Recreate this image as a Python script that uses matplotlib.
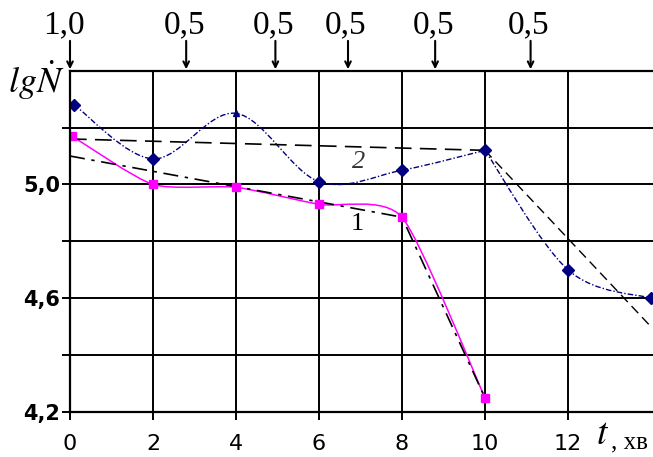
import numpy as np
import matplotlib
matplotlib.use("Agg")
from matplotlib import pyplot as plt
from matplotlib.path import Path
from matplotlib.patches import PathPatch

plt.rcParams['mathtext.fontset'] = 'stix'

# крива 2 (сині ромби)
t2 = [0.1, 2, 4, 6, 8, 10, 12, 14]
lgN2 = [5.28, 5.09, 5.25, 5.01, 5.05, 5.12, 4.70, 4.60]
# крива 1 (пурпурні квадрати)
t1 = [0.05, 2, 4, 6, 8, 10]
lgN1 = [5.17, 5.00, 4.99, 4.93, 4.885, 4.25]
# апроксимація (штрихові прямі)
fit2_t = [0, 10, 14]
fit2_y = [5.16, 5.12, 4.50]
fit1_t = [0, 8, 10]
fit1_y = [5.10, 4.885, 4.25]
# позначки зверху
top_t = [0, 2.8, 4.95, 6.7, 8.8, 11.1]
top_lbl = ['1,0', '0,5', '0,5', '0,5', '0,5', '0,5']

yticks = [4.2, 4.4, 4.6, 4.8, 5.0, 5.2]
ytick_lbl = ['4,2', '', '4,6', '', '5,0', '']
xticks = [0, 2, 4, 6, 8, 10, 12]


def smooth_path(x, y, k=1 / 6):
    # згладжена лінія через точки (Catmull-Rom -> кубічні Безьє)
    p = np.column_stack([x, y]).astype(float)
    ext = np.vstack([p[0], p, p[-1]])
    verts = [p[0]]
    codes = [Path.MOVETO]
    for i in range(1, len(ext) - 2):
        c1 = ext[i] + (ext[i + 1] - ext[i - 1]) * k
        c2 = ext[i + 1] - (ext[i + 2] - ext[i]) * k
        verts += [c1, c2, ext[i + 1]]
        codes += [Path.CURVE4] * 3
    return Path(verts, codes)


fig = plt.figure(figsize=(6.53, 4.57), dpi=100)
ax = fig.add_axes([70 / 653, 45 / 457, 583 / 653, 341.3 / 457])
ax.set_xlim(0, 14.05)
ax.set_ylim(4.2, 5.4)

ax.set_xticks(xticks)
ax.set_xticklabels([str(v) for v in xticks], fontsize=16, family='DejaVu Sans')
ax.set_yticks(yticks)
ax.set_yticklabels(ytick_lbl, fontsize=15, family='DejaVu Sans', fontweight='bold')
ax.tick_params(direction='out', length=6, width=1.4, color='black', pad=1)
ax.tick_params(axis='x', pad=10)
ax.grid(True, color='black', lw=1.4)
ax.set_axisbelow(True)
for s in ['left', 'bottom', 'top']:
    ax.spines[s].set_linewidth(1.6)
ax.spines['right'].set_visible(False)

# штрихові прямі
ax.plot(fit2_t[:2], fit2_y[:2], color='black', lw=1.2, dashes=(10, 5))
ax.plot(fit2_t[1:], fit2_y[1:], color='black', lw=1.0, dashes=(7, 4))
ax.plot(fit1_t, fit1_y, color='black', lw=1.2, dashes=(9, 4, 2, 4))

# згладжені криві
blue = '#000080'
pa = smooth_path(t2[:6], lgN2[:6])
pb = smooth_path(t2[5:], lgN2[5:])
for pth in (pa, pb):
    ax.add_patch(PathPatch(pth, facecolor='none', edgecolor=blue, lw=1.0,
                           linestyle=(0, (4, 1.5, 1, 1.5))))
mk2 = ['D', 'D', '^', 'D', 'D', 'D', 'D', 'D']
for t, v, m in zip(t2, lgN2, mk2):
    ax.plot(t, v, ls='none', marker=m, ms=6 if m == 'D' else 5, color=blue)

ax.add_patch(PathPatch(smooth_path(t1, lgN1, k=0.11), facecolor='none',
                       edgecolor='#ff00ff', lw=1.1))
ax.plot(t1, lgN1, ls='none', marker='s', ms=5.5, color='#ff00ff')

ax.text(6.95, 5.08, '2', fontsize=19, family='Liberation Serif', style='italic',
        ha='center', va='center', color='#333333')
ax.text(6.92, 4.86, '1', fontsize=19, family='Liberation Serif',
        ha='center', va='center')

# стрілки й підписи над графіком
for t, lbl in zip(top_t, top_lbl):
    ax.annotate('', xy=(t, 5.405), xytext=(t, 5.505), annotation_clip=False,
                arrowprops=dict(arrowstyle='->', lw=1.5, color='black',
                                shrinkA=0, shrinkB=0))
    ax.text(t - 0.15 if t == 0 else t - 0.05, 5.56, lbl, fontsize=24,
            family='Liberation Serif', ha='center', va='center', clip_on=False)

fig.text(36 / 653, 1 - 80 / 457, r'$lg\dot{N}$', fontsize=26, ha='center', va='center')
fig.text(603 / 653, 1 - 434 / 457, r'$t$', fontsize=27, ha='center', va='center')
fig.text(611 / 653, 1 - 442 / 457, ', хв', fontsize=18, family='Liberation Serif',
         ha='left', va='center')

fig.savefig('out.png', dpi=100)
